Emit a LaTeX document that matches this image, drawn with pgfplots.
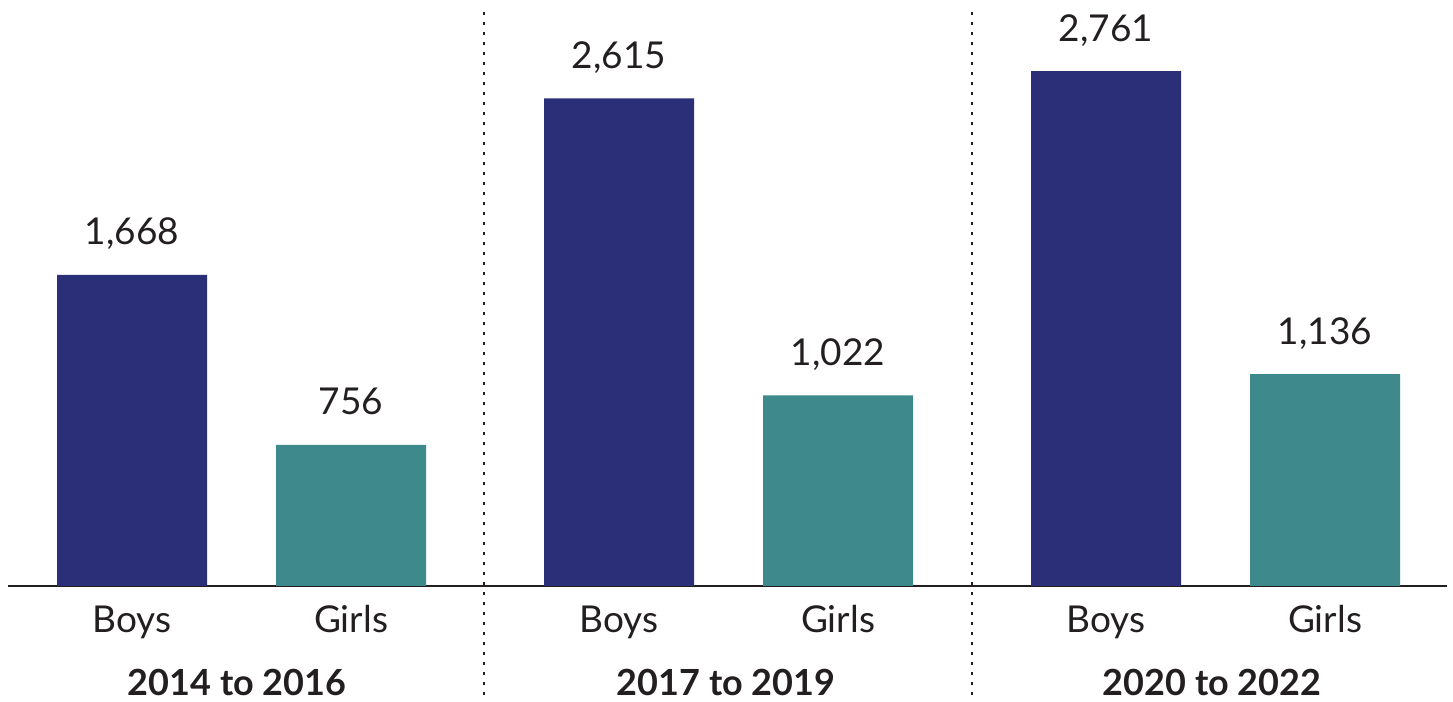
\documentclass[border=0pt]{standalone}
\usepackage{pgfplots}
\pgfplotsset{compat=1.18}
\usepackage{fontspec}
\setmainfont{Lato}
\definecolor{navy}{HTML}{2B2F77}
\definecolor{teal2}{HTML}{3E898C}
\definecolor{txt}{HTML}{231F20}
\begin{document}
\begin{tikzpicture}
\begin{axis}[
  scale only axis,
  width=719.5pt, height=287pt,
  xmin=8, xmax=1447, ymin=0, ymax=3078,
  enlargelimits=false,
  clip=false,
  axis x line=bottom,
  axis y line=none,
  x axis line style={-, line width=1pt, color=txt},
  ytick=\empty,
  xtick={132,351,619,838,1106,1325},
  xticklabels={Boys,Girls,Boys,Girls,Boys,Girls},
  xtick style={draw=none},
  xticklabel style={anchor=base, yshift=-19pt, font=\fontsize{18.5}{22}\selectfont, text=txt},
  ybar, bar width=75pt, bar shift=0pt,
  nodes near coords,
  nodes near coords style={anchor=base, yshift=15pt, font=\fontsize{18.5}{22}\selectfont, text=txt,
    /pgf/number format/.cd, 1000 sep={,}, assume math mode=true},
]
\addplot[fill=navy, draw=none] coordinates {(132,1668) (619,2615) (1106,2761)};
\addplot[fill=teal2, draw=none] coordinates {(351,756) (838,1022) (1325,1136)};
\draw[txt, line width=1pt, dash pattern=on 1.5pt off 3.5pt] (axis cs:484,3078) -- (axis cs:484,-595);
\draw[txt, line width=1pt, dash pattern=on 1.5pt off 3.5pt] (axis cs:972,3078) -- (axis cs:972,-595);
\node[anchor=base, font=\fontsize{18}{22}\selectfont\bfseries, text=txt] at (axis cs:237,-590) {2014 to 2016};
\node[anchor=base, font=\fontsize{18}{22}\selectfont\bfseries, text=txt] at (axis cs:726,-590) {2017 to 2019};
\node[anchor=base, font=\fontsize{18}{22}\selectfont\bfseries, text=txt] at (axis cs:1212,-590) {2020 to 2022};
\coordinate (bl) at (axis cs:0,-622);
\coordinate (tr) at (axis cs:1453,3142);
\end{axis}
\pgfresetboundingbox
\path[use as bounding box] (bl) rectangle (tr);
\end{tikzpicture}
\end{document}
